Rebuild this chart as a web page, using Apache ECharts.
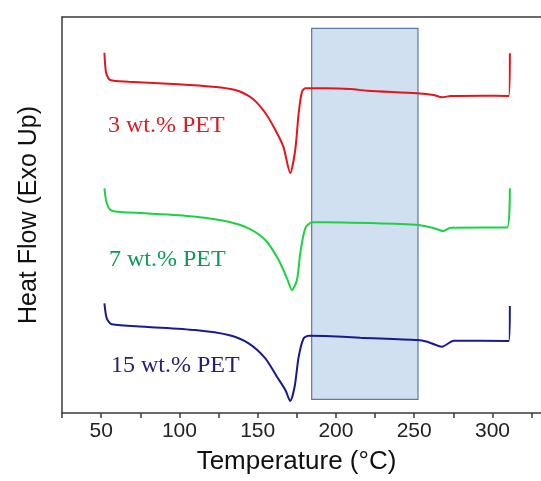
<!DOCTYPE html>
<html>
<head>
<meta charset="utf-8">
<script src="https://cdn.jsdelivr.net/npm/echarts@6/dist/echarts.min.js"></script>
<style>
  html, body { margin: 0; padding: 0; background: #fff; }
  #chart { width: 541px; height: 481px; }
</style>
</head>
<body>
<div id="chart"></div>
<script>
// DSC curves, temperature in °C, heat flow in arbitrary units (offset per sample)
const redT  = [52.1, 53.2, 55.8, 67.5, 99.2, 120.8, 135.7, 146.4, 154.9, 161.3, 166.4, 170.8, 174.0, 176.2, 178.3, 180.4, 193.2, 209.2, 219.9, 251.9, 262.3, 267.8, 273.2, 294.3, 310.4, 311.1];
const redHF = [360.3, 340, 333, 331.3, 328.7, 326.3, 323, 314.7, 300, 283, 266.3, 240, 263, 300, 321.3, 324.7, 324.7, 324, 322.3, 319.7, 318, 315.7, 317, 317.3, 317, 359.7];

const greenT  = [52.1, 53.6, 56.8, 78.1, 110.1, 131.4, 144.2, 154.9, 163.4, 168.7, 171.9, 175.1, 177.2, 180.4, 184.7, 193.2, 241.2, 252.7, 262.3, 268.7, 273.2, 309.4, 311.1];
const greenHF = [224.7, 209.7, 202.3, 199.7, 196.3, 191.3, 184.7, 173, 153, 134.7, 123, 133, 159.7, 184.7, 190.7, 190.7, 189, 188, 185, 182, 185.3, 185.5, 224.7];

const blueT  = [52.1, 53.6, 56.8, 78.1, 110.1, 131.4, 144.2, 154.9, 162.3, 167.7, 170.8, 173.6, 176.2, 179.4, 182.6, 193.2, 215.6, 251.9, 258.3, 267.8, 275.3, 310.4, 311.1];
const blueHF = [109.7, 94.7, 88.7, 86.3, 83, 78, 69.7, 54.7, 36.3, 23, 12, 26.3, 56.3, 74.7, 77.3, 77, 75.3, 73, 71.3, 66.3, 72.3, 72, 107];

// shaded temperature window
const boxT  = [184.5, 252.4];
const boxHF = [13.7, 384.7];

const names = ['3 wt.% PET', '7 wt.% PET', '15 wt.% PET'];

function zip(xs, ys) {
  return xs.map((x, i) => [x, ys[i]]);
}

const chart = echarts.init(document.getElementById('chart'));

const axisColor = '#3a3a3a';

const option = {
  backgroundColor: '#fff',
  animation: false,
  grid: { left: 62, right: 0, top: 17, bottom: 68 },
  xAxis: [{
    type: 'value',
    min: 25,
    max: 331,
    interval: 25,
    name: 'Temperature (°C)',
    nameLocation: 'middle',
    nameGap: 36,
    nameTextStyle: { fontFamily: 'Liberation Sans', fontSize: 26, color: '#111', padding: [0, 10, 0, 0] },
    axisLine: { show: true, lineStyle: { color: axisColor, width: 1.5 } },
    axisTick: { show: true, length: 5, lineStyle: { color: axisColor, width: 1.5 } },
    axisLabel: {
      margin: 8,
      fontFamily: 'Liberation Sans',
      fontSize: 21,
      color: '#222',
      showMaxLabel: false,
      formatter: v => (v % 50 === 0 ? String(v) : '')
    },
    splitLine: { show: false }
  }, {
    type: 'value',
    position: 'top',
    min: 25,
    max: 331,
    axisLine: { show: true, lineStyle: { color: axisColor, width: 1.5 } },
    axisTick: { show: false },
    axisLabel: { show: false },
    splitLine: { show: false }
  }],
  yAxis: {
    type: 'value',
    min: 0,
    max: 396,
    name: 'Heat Flow (Exo Up)',
    nameLocation: 'middle',
    nameGap: 20,
    nameTextStyle: { fontFamily: 'Liberation Sans', fontSize: 25, color: '#111' },
    axisLine: { show: true, lineStyle: { color: axisColor, width: 1.5 } },
    axisTick: { show: false },
    axisLabel: { show: false },
    splitLine: { show: false }
  },
  series: [
    {
      name: 'box',
      type: 'line',
      data: [],
      markArea: {
        silent: true,
        itemStyle: { color: 'rgba(200,219,239,0.85)', borderColor: '#5a7aa6', borderWidth: 1.2 },
        data: [[{ coord: [boxT[0], boxHF[0]] }, { coord: [boxT[1], boxHF[1]] }]]
      }
    },
    {
      name: names[0], type: 'line', showSymbol: false, smooth: 0.25,
      lineStyle: { color: '#e0161c', width: 2 },
      data: zip(redT, redHF)
    },
    {
      name: names[1], type: 'line', showSymbol: false, smooth: 0.25,
      lineStyle: { color: '#1fd046', width: 2 },
      data: zip(greenT, greenHF)
    },
    {
      name: names[2], type: 'line', showSymbol: false, smooth: 0.25,
      lineStyle: { color: '#1a1a8e', width: 2 },
      data: zip(blueT, blueHF)
    }
  ],
  graphic: [
    { type: 'text', left: 108, top: 114, style: { text: names[0], font: '24px "Liberation Serif"', fill: '#d61f26' } },
    { type: 'text', left: 109, top: 248, style: { text: names[1], font: '24px "Liberation Serif"', fill: '#0f9a57' } },
    { type: 'text', left: 111, top: 354, style: { text: names[2], font: '24px "Liberation Serif"', fill: '#2d1b70' } }
  ]
};

chart.setOption(option);
</script>
</body>
</html>
